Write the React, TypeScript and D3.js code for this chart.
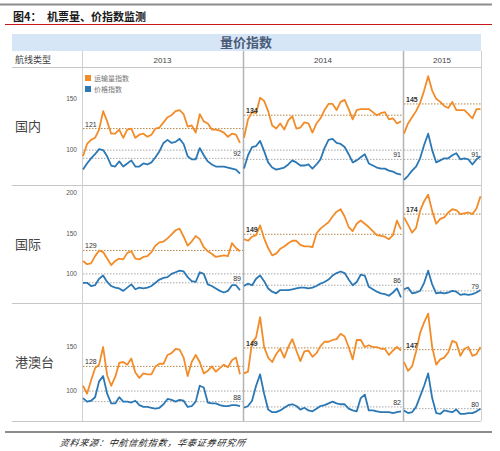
import * as d3 from "d3";

const years = ["2013", "2014", "2015"];
const routes = ["国内", "国际", "港澳台"];
const seriesNames = ["运输量指数", "价格指数"];
const yTicks = [[100, 150], [100, 150, 200], [100, 150]];

// average values shown on the dotted lines (route x year)
const volumeAvg = [[121, 134, 145], [129, 149, 174], [128, 149, 147]];
const priceAvg = [[92, 91, 91], [89, 86, 79], [88, 82, 80]];

// 国内
const domVol2013 = [94, 106, 110, 112, 120, 138, 128, 116, 116, 120, 112, 120, 121, 112, 115, 116, 113, 115, 121, 122, 127, 132, 134, 138, 139, 135, 123, 124, 117, 135, 128, 126, 120, 120, 119, 117, 113, 116, 115, 107];
const domVol2014 = [112, 130, 137, 136, 151, 148, 138, 124, 121, 126, 120, 129, 133, 121, 122, 127, 126, 117, 126, 131, 139, 145, 145, 139, 147, 149, 140, 130, 139, 140, 140, 140, 137, 134, 136, 137, 130, 131, 126, 128];
const domVol2015 = [116, 126, 132, 138, 146, 158, 172, 158, 150, 147, 143, 141, 147, 139, 139, 139, 135, 131, 140, 140];
const domPrice2013 = [81, 87, 92, 96, 101, 100, 94, 85, 84, 89, 84, 87, 90, 84, 84, 87, 86, 88, 93, 99, 107, 110, 107, 108, 111, 106, 94, 91, 91, 102, 95, 89, 86, 84, 84, 84, 83, 82, 81, 77];
const domPrice2014 = [82, 95, 103, 104, 109, 99, 88, 83, 81, 82, 83, 86, 90, 88, 85, 85, 86, 82, 86, 91, 102, 110, 111, 107, 106, 103, 96, 88, 90, 93, 96, 87, 85, 83, 82, 82, 80, 79, 77, 76];
const domPrice2015 = [71, 75, 80, 84, 92, 105, 116, 100, 88, 90, 92, 92, 95, 97, 91, 92, 91, 86, 91, 94];

// 国际
const intlVol2013 = [116, 112, 113, 122, 129, 127, 119, 111, 116, 119, 118, 126, 128, 119, 118, 121, 122, 127, 135, 139, 140, 144, 149, 154, 156, 146, 135, 140, 147, 143, 133, 128, 125, 121, 122, 123, 122, 138, 132, 128];
const intlVol2014 = [143, 141, 146, 148, 160, 144, 132, 123, 125, 131, 134, 138, 141, 141, 136, 134, 134, 133, 150, 156, 160, 164, 171, 177, 180, 171, 158, 153, 162, 166, 162, 158, 153, 148, 147, 146, 143, 148, 166, 155];
const intlVol2015 = [170, 161, 151, 157, 178, 190, 198, 178, 162, 168, 170, 176, 180, 179, 174, 175, 176, 174, 181, 196];
const intlPrice2013 = [89, 89, 85, 86, 94, 98, 90, 85, 83, 82, 79, 83, 87, 81, 83, 82, 83, 85, 89, 93, 95, 96, 100, 102, 104, 103, 96, 91, 90, 102, 100, 87, 85, 82, 79, 77, 79, 86, 86, 80];
const intlPrice2014 = [85, 88, 86, 94, 98, 91, 82, 78, 76, 80, 80, 80, 81, 82, 83, 83, 82, 83, 85, 88, 90, 93, 98, 101, 103, 101, 93, 86, 90, 99, 98, 84, 81, 78, 76, 75, 73, 77, 82, 71];
const intlPrice2015 = [81, 83, 76, 77, 79, 89, 104, 87, 76, 77, 76, 77, 79, 78, 74, 75, 74, 75, 77, 80];

// 港澳台
const hkVol2013 = [106, 97, 112, 126, 130, 150, 118, 106, 116, 132, 133, 130, 137, 121, 115, 120, 119, 119, 128, 131, 131, 141, 143, 148, 147, 138, 117, 133, 141, 133, 120, 123, 128, 122, 126, 130, 127, 135, 138, 119];
const hkVol2014 = [120, 122, 155, 161, 184, 150, 138, 133, 142, 148, 138, 150, 159, 146, 134, 145, 146, 139, 143, 151, 156, 156, 158, 159, 165, 162, 150, 136, 158, 158, 150, 152, 150, 150, 148, 148, 141, 146, 150, 146];
const hkVol2015 = [133, 123, 128, 145, 166, 178, 188, 150, 130, 136, 138, 144, 157, 155, 140, 148, 150, 140, 142, 150];
const hkPrice2013 = [92, 88, 89, 93, 111, 117, 97, 86, 86, 93, 88, 88, 87, 89, 84, 82, 82, 81, 80, 81, 85, 91, 90, 88, 90, 89, 82, 83, 88, 106, 104, 87, 86, 86, 84, 83, 83, 84, 84, 83];
const hkPrice2014 = [81, 83, 89, 106, 119, 97, 79, 76, 76, 78, 81, 84, 85, 83, 79, 81, 78, 77, 80, 83, 84, 86, 88, 86, 85, 85, 80, 78, 77, 92, 96, 78, 78, 77, 76, 76, 76, 75, 76, 77];
const hkPrice2015 = [78, 75, 76, 82, 94, 106, 120, 92, 75, 74, 78, 77, 76, 79, 74, 74, 75, 75, 77, 80];

const volume = [
  [domVol2013, domVol2014, domVol2015],
  [intlVol2013, intlVol2014, intlVol2015],
  [hkVol2013, hkVol2014, hkVol2015],
];
const price = [
  [domPrice2013, domPrice2014, domPrice2015],
  [intlPrice2013, intlPrice2014, intlPrice2015],
  [hkPrice2013, hkPrice2014, hkPrice2015],
];

const ORANGE = "#F28C28";
const BLUE = "#2B78B5";
const CJK = "'Noto Sans CJK SC', 'Liberation Sans', sans-serif";
const NUM = "'Liberation Sans', Arial, sans-serif";

// layout
const colX = [82, 243, 403, 481];
const rowY = [67, 185, 303, 421];
const yDomains = [[66, 181], [64, 210], [66, 200]];

export default function App() {
  const line = d3.line<number>();

  return (
    <svg
      width={500}
      height={451}
      style={{ position: "absolute", left: 0, top: 0, background: "#fff" }}
    >
      {/* page header */}
      <line x1={0} x2={492} y1={4.5} y2={4.5} stroke="#8c8c8c" strokeWidth={2} />
      <text x={13} y={21} fontFamily={CJK} fontWeight="bold" fontSize={11} fill="#1a1a1a">
        图4：
      </text>
      <text x={47} y={21} fontFamily={CJK} fontWeight="bold" fontSize={11} fill="#1a1a1a">
        机票量、价指数监测
      </text>
      <line x1={5} x2={492} y1={24.5} y2={24.5} stroke="#C8161D" strokeWidth={1} />

      {/* table header */}
      <rect x={12} y={34} width={469} height={17} fill="#D6E6F7" />
      <text x={246} y={47} textAnchor="middle" fontFamily={CJK} fontWeight="bold" fontSize={13} fill="#4B5C78">
        量价指数
      </text>
      <text x={15} y={63} fontFamily={CJK} fontSize={9} fill="#444">
        航线类型
      </text>
      {years.map((yr, c) => (
        <text
          key={yr}
          x={(colX[c] + colX[c + 1]) / 2}
          y={63}
          textAnchor="middle"
          fontFamily={NUM}
          fontSize={8}
          fill="#444"
        >
          {yr}
        </text>
      ))}

      {/* grid of table */}
      {rowY.map((y) => (
        <line key={y} x1={12} x2={481} y1={y + 0.5} y2={y + 0.5} stroke="#c6c6c6" strokeWidth={1} />
      ))}
      {colX.map((x, i) => (
        <line
          key={x}
          x1={x + 0.5}
          x2={x + 0.5}
          y1={51}
          y2={421}
          stroke={i === 0 || i === 3 ? "#d0d0d0" : "#b4b4b4"}
          strokeWidth={i === 0 || i === 3 ? 1 : 1.5}
        />
      ))}

      {routes.map((route, r) => {
        const y = d3
          .scaleLinear()
          .domain(yDomains[r])
          .range([rowY[r + 1], rowY[r]]);
        return (
          <g key={route}>
            <text
              x={15}
              y={(rowY[r] + rowY[r + 1]) / 2 + 5}
              fontFamily={CJK}
              fontSize={13}
              fill="#444"
            >
              {route}
            </text>
            {yTicks[r].map((t) => (
              <text
                key={t}
                x={77}
                y={y(t)}
                dy="0.35em"
                textAnchor="end"
                fontFamily={NUM}
                fontSize={6.5}
                fill="#555"
              >
                {t}
              </text>
            ))}
            {years.map((yr, c) => {
              const x0 = colX[c];
              const x1 = colX[c + 1];
              const x = d3.scaleLinear().domain([0, 39]).range([x0 + 1, x0 + 158]);
              const vol = volume[r][c];
              const pr = price[r][c];
              const vAvg = volumeAvg[r][c];
              const pAvg = priceAvg[r][c];
              const volPath = line.x((_, i) => x(i)).y((d) => y(d))(vol) ?? "";
              const prPath = line.x((_, i) => x(i)).y((d) => y(d))(pr) ?? "";
              return (
                <g key={yr}>
                  {/* reference and average lines */}
                  <line x1={x0 + 1} x2={x1} y1={y(100)} y2={y(100)} stroke="#a8a8a8" strokeDasharray="1.5,1.5" />
                  <line x1={x0 + 1} x2={x1} y1={y(pAvg)} y2={y(pAvg)} stroke="#a8a8a8" strokeDasharray="1.5,1.5" />
                  <line x1={x0 + 1} x2={x1} y1={y(vAvg)} y2={y(vAvg)} stroke="#B4874A" strokeDasharray="1.5,1.5" />

                  <path d={volPath} fill="none" stroke={ORANGE} strokeWidth={1.8} strokeLinejoin="round" />
                  <path d={prPath} fill="none" stroke={BLUE} strokeWidth={1.8} strokeLinejoin="round" />

                  <text
                    x={x0 + 3}
                    y={y(vAvg) - 2}
                    fontFamily={NUM}
                    fontSize={7}
                    fontWeight={c === 0 ? "normal" : "bold"}
                    fill="#333"
                  >
                    {vAvg}
                  </text>
                  <text
                    x={x1 - 2}
                    y={y(pAvg) - 2}
                    textAnchor="end"
                    fontFamily={NUM}
                    fontSize={7}
                    fill="#333"
                  >
                    {pAvg}
                  </text>
                </g>
              );
            })}
          </g>
        );
      })}

      {/* legend */}
      {seriesNames.map((name, i) => (
        <g key={name}>
          <rect x={85} y={75 + i * 11} width={6} height={6} fill={i === 0 ? ORANGE : BLUE} />
          <text x={94} y={81 + i * 11} fontFamily={CJK} fontSize={7} fill="#777">
            {name}
          </text>
        </g>
      ))}

      {/* footer */}
      <line x1={5} x2={492} y1={432} y2={432} stroke="#8c8c8c" strokeWidth={2} />
      <text
        x={60}
        y={446}
        fontFamily={CJK}
        fontStyle="italic"
        fontSize={9}
        letterSpacing={0.8}
        fill="#222"
        transform="skewX(-12) translate(94 0)"
      >
        资料来源：中航信航指数，华泰证券研究所
      </text>
    </svg>
  );
}
